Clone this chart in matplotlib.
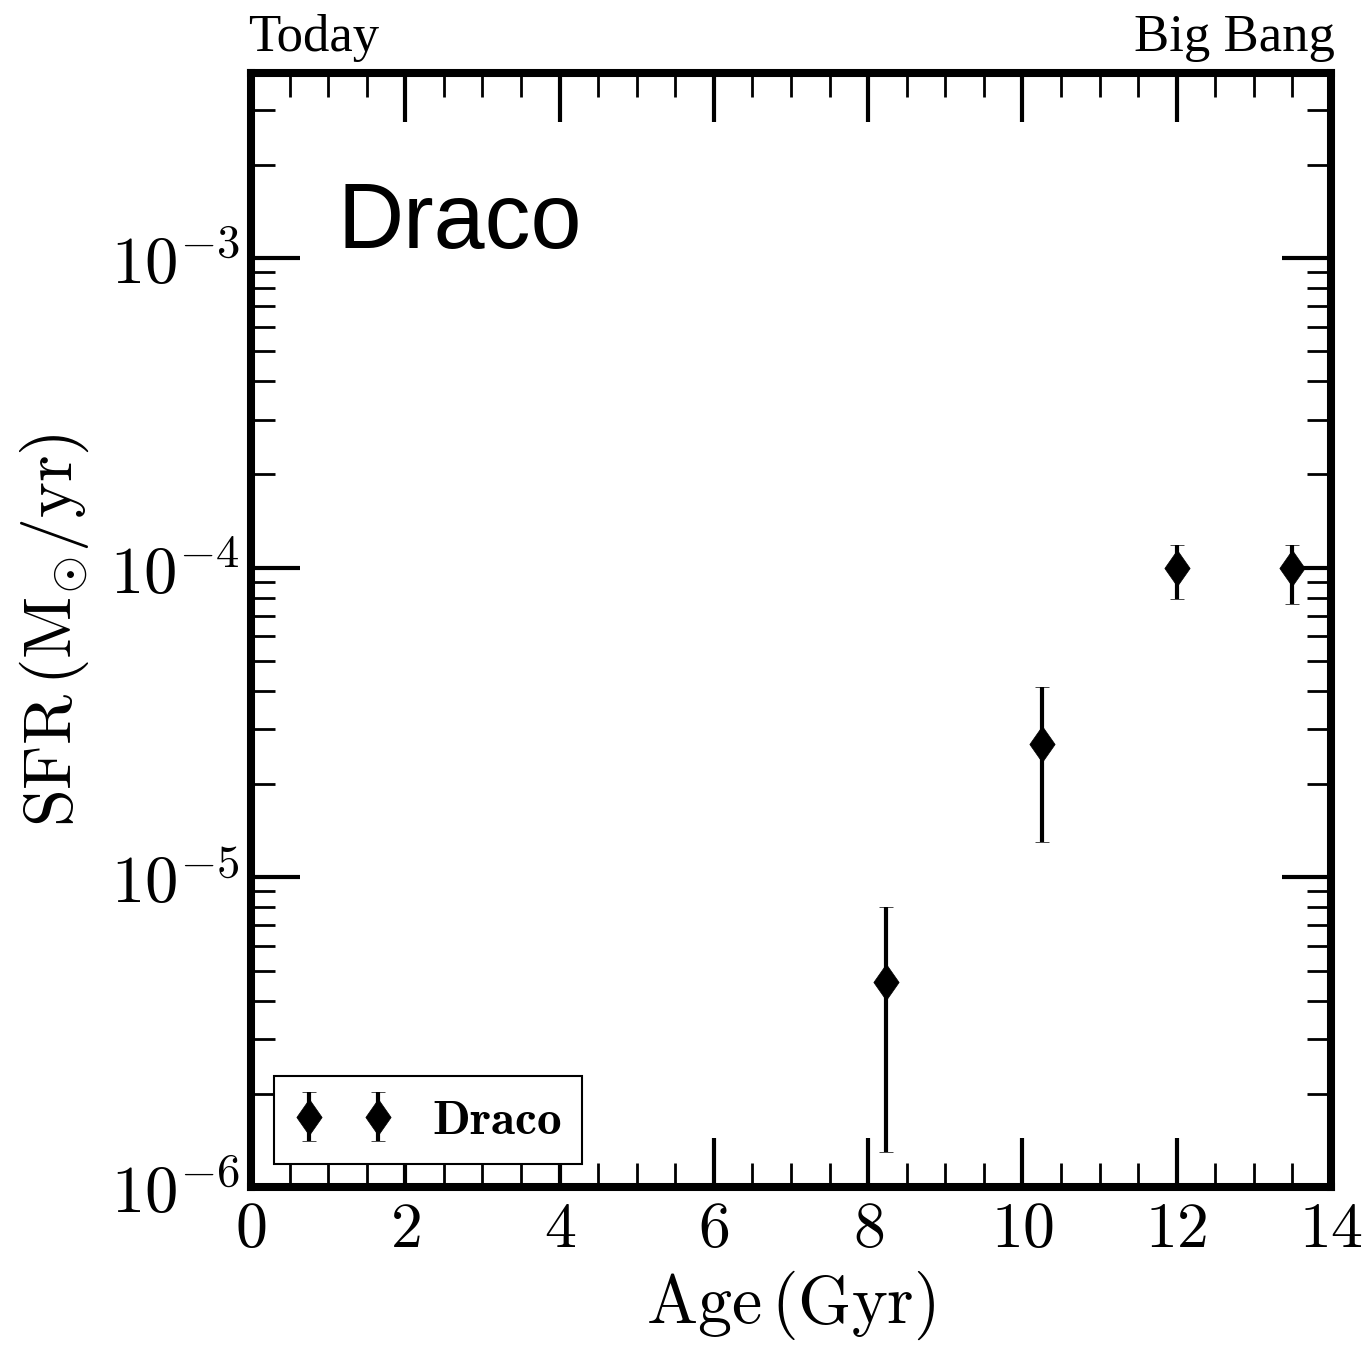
import numpy as np
import matplotlib
matplotlib.use('Agg')
import matplotlib.pyplot as plt
from matplotlib.ticker import MultipleLocator, LogLocator, FuncFormatter, NullFormatter

plt.rcParams['mathtext.fontset'] = 'cm'

# star formation history points (age in Gyr, SFR in Msun/yr)
age = [8.23, 10.25, 12.0, 13.5]
sfr = [4.6e-6, 2.7e-5, 1.0e-4, 1.0e-4]
sfr_hi = [8.0e-6, 4.1e-5, 1.18e-4, 1.18e-4]
sfr_lo = [1.3e-6, 1.3e-5, 7.9e-5, 7.6e-5]
galaxy = 'Draco'

sfr = np.array(sfr)
yerr = [sfr - np.array(sfr_lo), np.array(sfr_hi) - sfr]

# slightly fatter diamond than the built-in 'd'
diamond = [(0, 1), (0.7, 0), (0, -1), (-0.7, 0), (0, 1)]

fig = plt.figure(figsize=(13.71, 13.49), dpi=100)
ax = fig.add_axes([251 / 1371, 1 - 1187 / 1349, 1080 / 1371, 1114 / 1349])

eb = ax.errorbar(age, sfr, yerr=yerr, marker=diamond, ls='none', color='k',
                 ms=26, mew=0.5, elinewidth=3, capsize=5, capthick=1.5,
                 label=r'$\mathbf{' + galaxy + '}$')

ax.set_yscale('log')
ax.set_xlim(0, 14)
ax.set_ylim(1e-6, 3.95e-3)

ax.xaxis.set_major_locator(MultipleLocator(2))
ax.xaxis.set_minor_locator(MultipleLocator(0.5))
ax.xaxis.set_major_formatter(FuncFormatter(lambda v, p: r'$%d$' % round(v)))
ax.yaxis.set_major_locator(LogLocator(base=10, numticks=20))
ax.yaxis.set_minor_locator(LogLocator(base=10, subs=np.arange(2, 10), numticks=20))
ax.yaxis.set_major_formatter(FuncFormatter(lambda v, p: r'$10^{%d}$' % round(np.log10(v))))
ax.yaxis.set_minor_formatter(NullFormatter())

ax.tick_params(which='both', direction='in', top=True, right=True)
ax.tick_params(which='major', length=35, width=3, pad=8)
ax.tick_params(axis='x', which='major', labelsize=46)
ax.tick_params(axis='y', which='major', labelsize=48)
ax.tick_params(which='minor', length=17, width=2)
for s in ax.spines.values():
    s.set_linewidth(5.8)

ax.set_xlabel(r'$\mathrm{Age\,(Gyr)}$', fontsize=49, labelpad=6)
ax.set_ylabel(r'$\mathrm{SFR\,(M_{\odot}/yr)}$', fontsize=49, labelpad=14)

ax.text(0.08, 0.843, galaxy, transform=ax.transAxes, fontsize=66,
        family='Liberation Sans', va='baseline', ha='left')
ax.text(-0.003, 1.01, 'Today', transform=ax.transAxes, fontsize=38,
        family='Liberation Serif', va='bottom', ha='left')
ax.text(1.004, 1.01, 'Big Bang', transform=ax.transAxes, fontsize=38,
        family='Liberation Serif', va='bottom', ha='right')

leg = ax.legend(handles=[eb], loc='lower left', numpoints=2, fontsize=35.5,
                fancybox=False, edgecolor='k', framealpha=1, borderaxespad=0.47)
leg.get_frame().set_linewidth(1.5)

fig.savefig('out.png', dpi=100)
